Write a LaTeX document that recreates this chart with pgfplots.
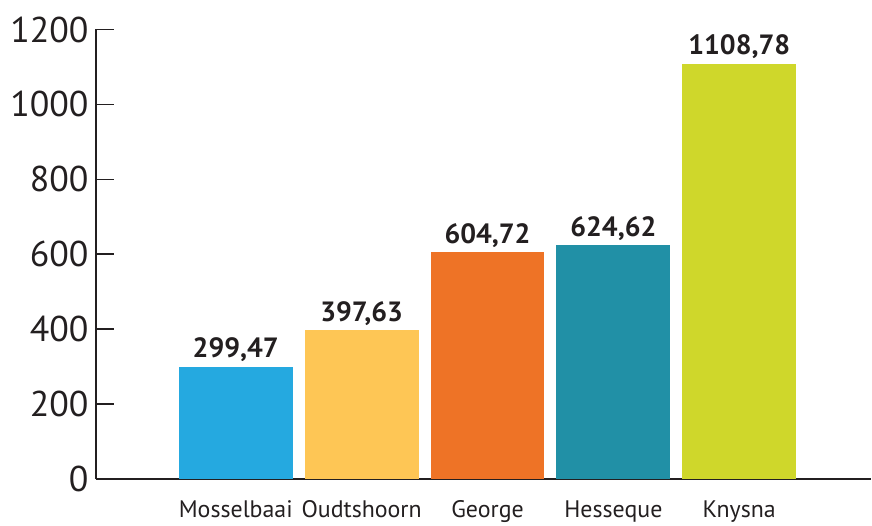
\documentclass[border=0pt]{standalone}
\usepackage{pgfplots}
\pgfplotsset{compat=1.18}
\usepackage{fontspec}
\setmainfont{PT Sans}
\definecolor{axc}{HTML}{231F20}
\definecolor{c1}{HTML}{25A9E0}
\definecolor{c2}{HTML}{FEC655}
\definecolor{c3}{HTML}{EE7326}
\definecolor{c4}{HTML}{2190A6}
\definecolor{c5}{HTML}{CFD72B}
\begin{document}
\begin{tikzpicture}
\begin{axis}[
  at={(0,0)}, anchor=south west,
  scale only axis, width=776bp, height=450bp,
  xmin=-1.111, xmax=5.048, ymin=0, ymax=1200,
  axis x line=bottom, axis y line=left,
  axis line style={-, line width=1.6bp, color=axc},
  ytick={0,200,...,1200},
  tick align=inside, major tick length=18bp,
  major tick style={line width=1.6bp, color=axc},
  every major y tick/.append style={line width=1.6bp, color=axc},
  xtick={0,1,2,3,4},
  xticklabels={Mosselbaai,Oudtshoorn,George,Hesseque,Knysna},
  every major x tick/.append style={draw=none},
  yticklabel style={font=\fontsize{36}{36}\selectfont, text=axc, xshift=-4bp},
  xticklabel style={font=\fontsize{24}{24}\selectfont, text=axc, yshift=0bp},
  /pgf/number format/assume math mode=true,
  /pgf/number format/1000 sep={},
  ybar, bar width=114bp, bar shift=0pt,
  nodes near coords={\pgfmathprintnumber[fixed,fixed zerofill,precision=2,use comma,1000 sep={}]{\pgfplotspointmeta}},
  nodes near coords style={font=\bfseries\fontsize{28}{28}\selectfont, text=axc, anchor=base, inner sep=0pt, yshift=9bp},
  clip=false,
]
\addplot[fill=c1, draw=none] coordinates {(0,299.47)};
\addplot[fill=c2, draw=none] coordinates {(1,397.63)};
\addplot[fill=c3, draw=none] coordinates {(2,604.72)};
\addplot[fill=c4, draw=none] coordinates {(3,624.62)};
\addplot[fill=c5, draw=none] coordinates {(4,1108.78)};
\end{axis}
\path[use as bounding box] (-96bp,-33.5bp) rectangle (776bp,479.5bp);
\end{tikzpicture}
\end{document}
